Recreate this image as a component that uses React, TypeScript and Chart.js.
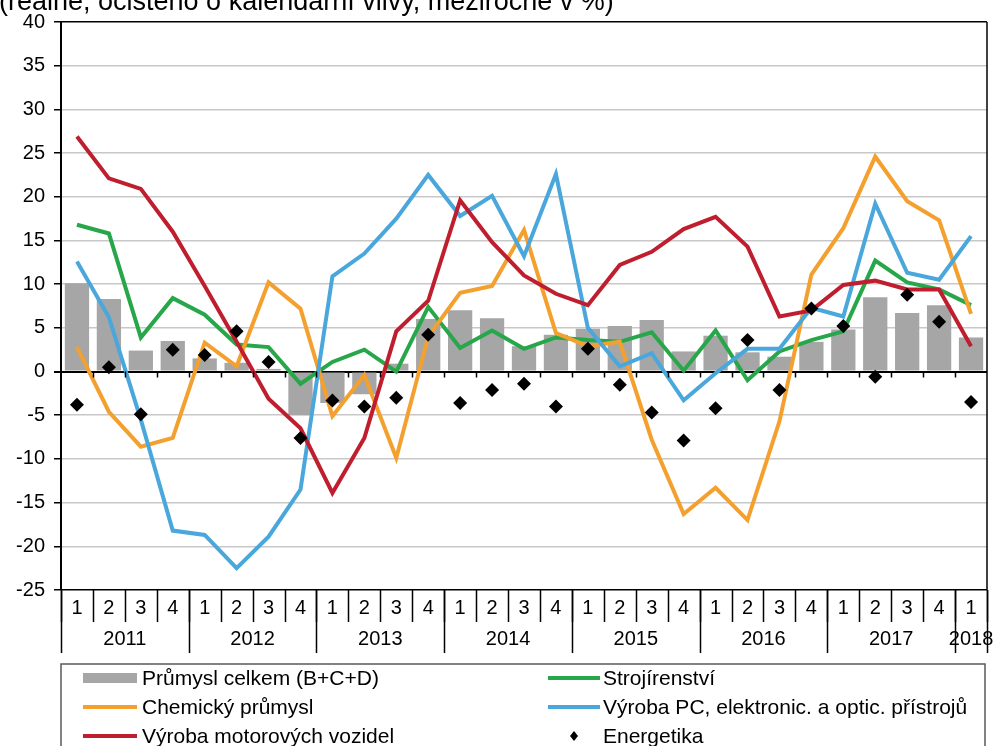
import React, { useEffect, useRef } from "react";
import { Chart, registerables } from "chart.js";

Chart.register(...registerables);

const FONT = "Arial, 'Liberation Sans', Helvetica, sans-serif";

const titleText = "(reálně, očištěno o kalendářní vlivy, meziročně v %)";

const quarterLabels = [
  "1", "2", "3", "4", "1", "2", "3", "4", "1", "2", "3", "4", "1", "2", "3", "4",
  "1", "2", "3", "4", "1", "2", "3", "4", "1", "2", "3", "4", "1",
];
const yearLabels = ["2011", "2012", "2013", "2014", "2015", "2016", "2017", "2018"];
const yearQuarterCounts = [4, 4, 4, 4, 4, 4, 4, 1];

const seriesNames = [
  "Průmysl celkem (B+C+D)",
  "Strojírenství",
  "Chemický průmysl",
  "Výroba PC, elektronic. a optic. přístrojů",
  "Výroba motorových vozidel",
  "Energetika",
];

const prumyslCelkem = [
  10.1, 8.3, 2.4, 3.5, 1.5, 1.0, 0.3, -5.0, -3.6, -2.6, 0.9, 6.0, 7.0, 6.1, 2.9, 4.2,
  4.9, 5.2, 5.9, 2.3, 4.1, 2.2, 1.7, 3.4, 4.8, 8.5, 6.7, 7.6, 3.9,
];
const strojirenstvi = [
  16.8, 15.8, 3.9, 8.4, 6.5, 3.1, 2.8, -1.4, 1.1, 2.5, 0.0, 7.4, 2.7, 4.7, 2.6, 3.9,
  3.6, 3.4, 4.5, 0.1, 4.7, -1.0, 2.3, 3.6, 4.6, 12.7, 10.2, 9.4, 7.6,
];
const chemicky = [
  2.8, -4.6, -8.6, -7.6, 3.3, 0.6, 10.2, 7.2, -5.1, -0.4, -9.9, 4.0, 9.0, 9.8, 16.2, 4.4,
  2.9, 3.4, -7.8, -16.3, -13.3, -17.0, -5.7, 11.1, 16.4, 24.6, 19.5, 17.3, 6.6,
];
const vyrobaPC = [
  12.6, 6.2, -5.5, -18.2, -18.7, -22.5, -18.9, -13.5, 10.9, 13.5, 17.5, 22.5, 17.8, 20.1, 13.2, 22.6,
  5.0, 0.6, 2.1, -3.3, -0.2, 2.6, 2.6, 7.3, 6.3, 19.2, 11.3, 10.5, 15.5,
];
const motorova = [
  26.9, 22.1, 20.9, 16.0, 9.8, 3.4, -3.1, -6.5, -13.9, -7.6, 4.6, 8.1, 19.6, 14.8, 11.0, 8.9,
  7.6, 12.2, 13.7, 16.3, 17.7, 14.3, 6.3, 7.0, 9.9, 10.4, 9.4, 9.4, 2.9,
];
const energetika = [
  -3.8, 0.5, -4.9, 2.5, 1.9, 4.6, 1.1, -7.6, -3.3, -4.0, -3.0, 4.2, -3.6, -2.1, -1.4, -4.0,
  2.6, -1.5, -4.7, -7.9, -4.2, 3.6, -2.1, 7.2, 5.2, -0.6, 8.8, 5.7, -3.5,
];

const yMin = -25;
const yMax = 40;
const yStep = 5;

const COLORS = {
  bar: "#a6a6a6",
  green: "#27a74a",
  orange: "#f4a02e",
  blue: "#4aa7dc",
  red: "#bf1e2e",
  black: "#000000",
};

const customPlugin = {
  id: "customDecor",
  afterDatasetsDraw(chart: any) {
    const { ctx, scales } = chart;
    const xs = scales.x;
    const ys = scales.y;
    const n = quarterLabels.length;
    const y0 = ys.getPixelForValue(0);
    ctx.save();
    ctx.strokeStyle = "#000";
    ctx.lineWidth = 1.5;
    ctx.beginPath();
    for (let i = 1; i < n; i++) {
      const x = Math.round(xs.getPixelForValue(i - 0.5)) + 0.5;
      ctx.moveTo(x, y0);
      ctx.lineTo(x, y0 + 6);
    }
    ctx.stroke();
    ctx.restore();
  },
  afterDraw(chart: any) {
    const { ctx, chartArea, scales } = chart;
    const xs = scales.x;
    const n = quarterLabels.length;
    const bottom = chartArea.bottom;
    ctx.save();

    // right border
    ctx.strokeStyle = "#000";
    ctx.lineWidth = 1.5;
    ctx.beginPath();
    ctx.moveTo(chartArea.right, chartArea.top);
    ctx.lineTo(chartArea.right, chartArea.bottom);
    ctx.stroke();

    // quarter separators and labels
    ctx.fillStyle = "#000";
    ctx.font = `20px ${FONT}`;
    ctx.textAlign = "center";
    ctx.textBaseline = "middle";
    for (let i = 0; i < n; i++) {
      ctx.fillText(quarterLabels[i], xs.getPixelForValue(i), bottom + 18);
    }
    ctx.lineWidth = 1.5;
    ctx.beginPath();
    for (let i = 0; i <= n; i++) {
      const x = Math.round(xs.getPixelForValue(i - 0.5)) + 0.5;
      ctx.moveTo(x, bottom);
      ctx.lineTo(x, bottom + 32);
    }
    ctx.stroke();

    // year separators and labels
    let start = 0;
    ctx.beginPath();
    const x0 = Math.round(xs.getPixelForValue(-0.5)) + 0.5;
    ctx.moveTo(x0, bottom);
    ctx.lineTo(x0, bottom + 63);
    for (let k = 0; k < yearLabels.length; k++) {
      const end = start + yearQuarterCounts[k];
      const xc = (xs.getPixelForValue(start - 0.5) + xs.getPixelForValue(end - 0.5)) / 2;
      ctx.fillText(yearLabels[k], xc, bottom + 49);
      const xe = Math.round(xs.getPixelForValue(end - 0.5)) + 0.5;
      ctx.moveTo(xe, bottom);
      ctx.lineTo(xe, bottom + 63);
      start = end;
    }
    ctx.stroke();

    // legend box
    const lx = 61;
    const ly = 664;
    ctx.strokeStyle = "#595959";
    ctx.lineWidth = 1.5;
    ctx.strokeRect(lx, ly, 924, 120);

    const rows = [678, 707, 736];
    const cols = [
      { sx: 83, ex: 137, tx: 142 },
      { sx: 548, ex: 600, tx: 603 },
    ];
    const items = [
      { kind: "bar", color: COLORS.bar },
      { kind: "line", color: COLORS.green },
      { kind: "line", color: COLORS.orange },
      { kind: "line", color: COLORS.blue },
      { kind: "line", color: COLORS.red },
      { kind: "diamond", color: COLORS.black },
    ];
    ctx.font = `21px ${FONT}`;
    ctx.textAlign = "left";
    ctx.textBaseline = "middle";
    items.forEach((it, idx) => {
      const r = rows[Math.floor(idx / 2)];
      const c = cols[idx % 2];
      if (it.kind === "bar") {
        ctx.fillStyle = it.color;
        ctx.fillRect(c.sx, r - 5, c.ex - c.sx, 10);
      } else if (it.kind === "line") {
        ctx.strokeStyle = it.color;
        ctx.lineWidth = 4;
        ctx.beginPath();
        ctx.moveTo(c.sx, r);
        ctx.lineTo(c.ex, r);
        ctx.stroke();
      } else {
        const cx = (c.sx + c.ex) / 2;
        ctx.fillStyle = it.color;
        ctx.beginPath();
        ctx.moveTo(cx, r - 5);
        ctx.lineTo(cx + 4, r);
        ctx.lineTo(cx, r + 5);
        ctx.lineTo(cx - 4, r);
        ctx.closePath();
        ctx.fill();
      }
      ctx.fillStyle = "#000";
      ctx.fillText(seriesNames[idx], c.tx, r + 1);
    });

    // title (partially cut at the top)
    ctx.font = `27px ${FONT}`;
    ctx.textAlign = "left";
    ctx.textBaseline = "alphabetic";
    ctx.fillStyle = "#000";
    ctx.fillText(titleText, -1, 10);

    ctx.restore();
  },
};

export default function App() {
  const canvasRef = useRef<HTMLCanvasElement | null>(null);

  useEffect(() => {
    const canvas = canvasRef.current;
    if (!canvas) return;
    const lineDs = (label: string, data: number[], color: string, order: number) => ({
      type: "line" as const,
      label,
      data,
      borderColor: color,
      backgroundColor: color,
      borderWidth: 4,
      pointRadius: 0,
      tension: 0,
      fill: false,
      order,
    });
    const chart = new Chart(canvas, {
      type: "bar",
      data: {
        labels: quarterLabels,
        datasets: [
          {
            type: "line",
            label: seriesNames[5],
            data: energetika,
            showLine: false,
            pointStyle: "rectRot",
            pointRadius: 7,
            pointBackgroundColor: COLORS.black,
            pointBorderColor: COLORS.black,
            pointBorderWidth: 0,
            order: 0,
          } as any,
          lineDs(seriesNames[4], motorova, COLORS.red, 1),
          lineDs(seriesNames[3], vyrobaPC, COLORS.blue, 2),
          lineDs(seriesNames[2], chemicky, COLORS.orange, 3),
          lineDs(seriesNames[1], strojirenstvi, COLORS.green, 4),
          {
            type: "bar",
            label: seriesNames[0],
            data: prumyslCelkem,
            backgroundColor: COLORS.bar,
            borderWidth: 0,
            barPercentage: 0.76,
            categoryPercentage: 1,
            order: 5,
          },
        ],
      },
      options: {
        responsive: false,
        animation: false,
        devicePixelRatio: 1,
        layout: { padding: { left: 0, right: 8, top: 22, bottom: 156 } },
        plugins: {
          legend: { display: false },
          tooltip: { enabled: false },
          title: { display: false },
        },
        scales: {
          x: {
            type: "category",
            offset: true,
            grid: { display: false, drawTicks: false },
            border: { display: false },
            ticks: { display: false },
            afterFit: (s: any) => {
              s.height = 0;
            },
          },
          y: {
            min: yMin,
            max: yMax,
            ticks: {
              stepSize: yStep,
              color: "#000",
              font: { family: FONT, size: 20 },
              padding: 9,
            },
            grid: {
              color: (c: any) => {
                const v = c.tick ? c.tick.value : null;
                if (v === 0 || v === yMax || v === yMin) return "#000";
                return "#c8c8c8";
              },
              lineWidth: (c: any) => {
                const v = c.tick ? c.tick.value : null;
                if (v === 0) return 2;
                return 1.5;
              },
              tickColor: "#000",
              tickLength: 7,
            },
            border: { display: true, color: "#000", width: 2 },
            afterFit: (s: any) => {
              s.width = 61;
            },
          },
        },
      },
      plugins: [customPlugin],
    });
    return () => chart.destroy();
  }, []);

  return (
    <div style={{ position: "absolute", left: 0, top: 0, width: 995, height: 746, background: "#fff", overflow: "hidden" }}>
      <canvas ref={canvasRef} width={995} height={746} style={{ display: "block" }} />
    </div>
  );
}
